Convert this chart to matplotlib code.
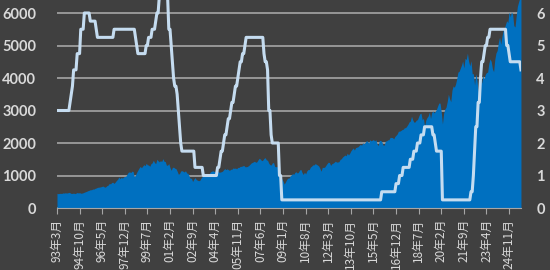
import matplotlib
matplotlib.use("Agg")
import matplotlib.pyplot as plt
import numpy as np

plt.rcParams['font.family'] = ['Noto Sans CJK SC', 'DejaVu Sans']

# S&P 500 month-end close, 1993-03 .. 2025-09
spx = [
    452, 440, 450, 451, 448, 464, 459, 468, 462, 466,
    482, 467, 446, 451, 457, 444, 458, 475, 463, 472, 454, 459,
    470, 487, 501, 515, 533, 545, 562, 562, 584, 582, 605, 616,
    636, 640, 646, 654, 669, 671, 640, 652, 687, 705, 757, 741,
    786, 791, 757, 801, 848, 885, 954, 899, 947, 915, 955, 970,
    980, 1049, 1102, 1112, 1091, 1134, 1121, 957, 1017, 1099, 1164, 1229,
    1280, 1238, 1286, 1335, 1302, 1373, 1329, 1320, 1283, 1363, 1389, 1469,
    1394, 1366, 1499, 1452, 1421, 1455, 1431, 1518, 1437, 1429, 1315, 1320,
    1366, 1240, 1160, 1249, 1256, 1224, 1211, 1134, 1041, 1060, 1139, 1148,
    1130, 1107, 1147, 1077, 1067, 990, 912, 916, 815, 886, 936, 880,
    856, 841, 848, 917, 964, 975, 990, 1008, 996, 1051, 1058, 1112,
    1131, 1145, 1126, 1107, 1121, 1141, 1102, 1104, 1115, 1130, 1174, 1212,
    1181, 1204, 1181, 1157, 1192, 1191, 1234, 1220, 1229, 1207, 1249, 1248,
    1280, 1281, 1295, 1311, 1270, 1270, 1277, 1304, 1336, 1378, 1401, 1418,
    1438, 1407, 1421, 1482, 1531, 1503, 1455, 1474, 1527, 1549, 1481, 1468,
    1379, 1331, 1323, 1386, 1400, 1280, 1267, 1283, 1166, 969, 896, 903,
    826, 735, 798, 873, 919, 919, 987, 1021, 1057, 1036, 1096, 1115,
    1074, 1104, 1169, 1187, 1089, 1031, 1102, 1049, 1141, 1183, 1181, 1258,
    1286, 1327, 1326, 1364, 1345, 1321, 1292, 1219, 1131, 1253, 1247, 1258,
    1312, 1366, 1408, 1398, 1310, 1362, 1379, 1407, 1441, 1412, 1416, 1426,
    1498, 1515, 1569, 1598, 1631, 1606, 1686, 1633, 1682, 1757, 1806, 1848,
    1783, 1859, 1872, 1884, 1924, 1960, 1931, 2003, 1972, 2018, 2068, 2059,
    1995, 2105, 2068, 2086, 2107, 2063, 2104, 1972, 1920, 2079, 2080, 2044,
    1940, 1932, 2060, 2065, 2097, 2099, 2174, 2171, 2168, 2126, 2199, 2239,
    2279, 2364, 2363, 2384, 2412, 2423, 2470, 2472, 2519, 2575, 2648, 2674,
    2824, 2714, 2641, 2648, 2705, 2718, 2816, 2902, 2914, 2712, 2760, 2507,
    2704, 2784, 2834, 2946, 2752, 2942, 2980, 2926, 2977, 3038, 3141, 3231,
    3226, 2954, 2585, 2912, 3044, 3100, 3271, 3500, 3363, 3270, 3622, 3756,
    3714, 3811, 3973, 4181, 4204, 4298, 4395, 4523, 4308, 4605, 4567, 4766,
    4516, 4374, 4530, 4132, 4132, 3785, 4130, 3955, 3586, 3872, 4080, 3840,
    4077, 3970, 4109, 4169, 4180, 4450, 4589, 4508, 4288, 4194, 4568, 4770,
    4846, 5096, 5254, 5036, 5278, 5460, 5522, 5648, 5762, 5705, 6032, 5882,
    6041, 5955, 5612, 5569, 5912, 6205, 6339, 6460, 6688,
]

# Fed funds target (upper bound), %, same months
fed = [
    3.0, 3.0, 3.0, 3.0, 3.0, 3.0, 3.0, 3.0, 3.0, 3.0,
    3.0, 3.25, 3.5, 3.75, 4.25, 4.25, 4.25, 4.75, 4.75, 4.75, 5.5, 5.5,
    5.5, 6.0, 6.0, 6.0, 6.0, 6.0, 5.75, 5.75, 5.75, 5.75, 5.75, 5.5,
    5.25, 5.25, 5.25, 5.25, 5.25, 5.25, 5.25, 5.25, 5.25, 5.25, 5.25, 5.25,
    5.25, 5.25, 5.5, 5.5, 5.5, 5.5, 5.5, 5.5, 5.5, 5.5, 5.5, 5.5,
    5.5, 5.5, 5.5, 5.5, 5.5, 5.5, 5.5, 5.5, 5.25, 5.0, 4.75, 4.75,
    4.75, 4.75, 4.75, 4.75, 4.75, 5.0, 5.0, 5.25, 5.25, 5.25, 5.5, 5.5,
    5.5, 5.75, 6.0, 6.0, 6.5, 6.5, 6.5, 6.5, 6.5, 6.5, 6.5, 6.5,
    5.5, 5.5, 5.0, 4.5, 4.0, 3.75, 3.75, 3.5, 3.0, 2.5, 2.0, 1.75,
    1.75, 1.75, 1.75, 1.75, 1.75, 1.75, 1.75, 1.75, 1.75, 1.75, 1.25, 1.25,
    1.25, 1.25, 1.25, 1.25, 1.25, 1.0, 1.0, 1.0, 1.0, 1.0, 1.0, 1.0,
    1.0, 1.0, 1.0, 1.0, 1.0, 1.25, 1.25, 1.5, 1.75, 1.75, 2.0, 2.25,
    2.25, 2.5, 2.75, 2.75, 3.0, 3.25, 3.25, 3.5, 3.75, 3.75, 4.0, 4.25,
    4.5, 4.5, 4.75, 4.75, 5.0, 5.25, 5.25, 5.25, 5.25, 5.25, 5.25, 5.25,
    5.25, 5.25, 5.25, 5.25, 5.25, 5.25, 5.25, 5.25, 4.75, 4.5, 4.5, 4.25,
    3.0, 3.0, 2.25, 2.0, 2.0, 2.0, 2.0, 2.0, 2.0, 1.0, 1.0, 0.25,
    0.25, 0.25, 0.25, 0.25, 0.25, 0.25, 0.25, 0.25, 0.25, 0.25, 0.25, 0.25,
    0.25, 0.25, 0.25, 0.25, 0.25, 0.25, 0.25, 0.25, 0.25, 0.25, 0.25, 0.25,
    0.25, 0.25, 0.25, 0.25, 0.25, 0.25, 0.25, 0.25, 0.25, 0.25, 0.25, 0.25,
    0.25, 0.25, 0.25, 0.25, 0.25, 0.25, 0.25, 0.25, 0.25, 0.25, 0.25, 0.25,
    0.25, 0.25, 0.25, 0.25, 0.25, 0.25, 0.25, 0.25, 0.25, 0.25, 0.25, 0.25,
    0.25, 0.25, 0.25, 0.25, 0.25, 0.25, 0.25, 0.25, 0.25, 0.25, 0.25, 0.25,
    0.25, 0.25, 0.25, 0.25, 0.25, 0.25, 0.25, 0.25, 0.25, 0.25, 0.25, 0.5,
    0.5, 0.5, 0.5, 0.5, 0.5, 0.5, 0.5, 0.5, 0.5, 0.5, 0.5, 0.75,
    0.75, 0.75, 1.0, 1.0, 1.0, 1.25, 1.25, 1.25, 1.25, 1.25, 1.25, 1.5,
    1.5, 1.5, 1.75, 1.75, 1.75, 2.0, 2.0, 2.0, 2.25, 2.25, 2.25, 2.5,
    2.5, 2.5, 2.5, 2.5, 2.5, 2.5, 2.25, 2.25, 2.0, 1.75, 1.75, 1.75,
    1.75, 1.75, 0.25, 0.25, 0.25, 0.25, 0.25, 0.25, 0.25, 0.25, 0.25, 0.25,
    0.25, 0.25, 0.25, 0.25, 0.25, 0.25, 0.25, 0.25, 0.25, 0.25, 0.25, 0.25,
    0.25, 0.25, 0.5, 0.5, 1.0, 1.75, 2.5, 2.5, 3.25, 3.25, 4.0, 4.5,
    4.5, 4.75, 5.0, 5.0, 5.25, 5.25, 5.5, 5.5, 5.5, 5.5, 5.5, 5.5,
    5.5, 5.5, 5.5, 5.5, 5.5, 5.5, 5.5, 5.5, 5.0, 5.0, 4.75, 4.5,
    4.5, 4.5, 4.5, 4.5, 4.5, 4.5, 4.5, 4.5, 4.25,
]

tick_labels = ['93年3月', '94年10月', '96年5月', '97年12月', '99年7月',
               '01年2月', '02年9月', '04年4月', '05年11月', '07年6月',
               '09年1月', '10年8月', '12年3月', '13年10月', '15年5月',
               '16年12月', '18年7月', '20年2月', '21年9月', '23年4月',
               '24年11月']

bg = '#404040'
txt = '#d9d9d9'
x = np.arange(len(spx))

fig = plt.figure(figsize=(5.5, 2.7), dpi=100, facecolor=bg)
ax = fig.add_axes([0.1036, 0.2296, 0.8436, 0.7704])
ax.set_facecolor(bg)
ax.fill_between(x, spx, color='#0070C0', linewidth=0, zorder=2)
ax.set_xlim(0, len(spx) - 1)
ax.set_ylim(0, 6400)
ax.set_yticks(range(0, 7000, 1000))
ax.yaxis.grid(True, color='#a6a6a6', linewidth=1.2, zorder=1)
ax.set_axisbelow(True)
ax.set_xticks(range(0, len(spx), 19))
ax.set_xticklabels(tick_labels, rotation=90, fontsize=8.5)
for s in ['top', 'right', 'left']:
    ax.spines[s].set_visible(False)
ax.spines['bottom'].set_color('#a6a6a6')
ax.tick_params(axis='x', colors='#a6a6a6', length=4, pad=4, labelcolor=txt)
ax.tick_params(axis='y', length=0, pad=15, labelcolor=txt)
for lab in ax.get_yticklabels():
    lab.set_family('Lato')
    lab.set_fontweight('bold')
    lab.set_fontsize(10.5)

ax2 = ax.twinx()
ax2.plot(x, fed, color='#c5dcf0', linewidth=2.2, zorder=3)
ax2.set_ylim(0, 6.4)
ax2.set_yticks(range(0, 7))
for s in ['top', 'right', 'left', 'bottom']:
    ax2.spines[s].set_visible(False)
ax2.tick_params(axis='y', length=0, pad=11, labelcolor=txt)
for lab in ax2.get_yticklabels():
    lab.set_family('Lato')
    lab.set_fontweight('bold')
    lab.set_fontsize(10.5)

fig.savefig('out.png', dpi=100, facecolor=bg)
